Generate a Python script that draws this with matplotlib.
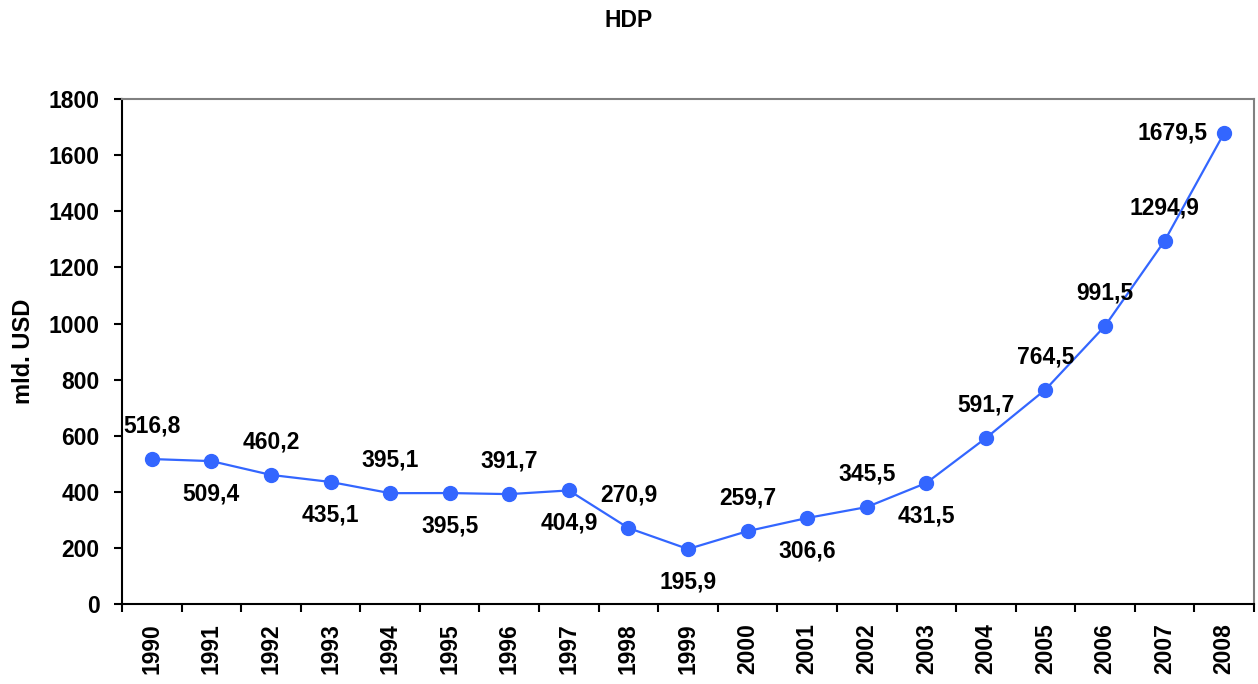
import matplotlib.pyplot as plt
import numpy as np

plt.rcParams['font.family'] = ['Liberation Sans', 'DejaVu Sans']

years = [str(y) for y in range(1990, 2009)]
gdp = [516.8, 509.4, 460.2, 435.1, 395.1, 395.5, 391.7, 404.9, 270.9, 195.9,
       259.7, 306.6, 345.5, 431.5, 591.7, 764.5, 991.5, 1294.9, 1679.5]
labels = ['516,8', '509,4', '460,2', '435,1', '395,1', '395,5', '391,7', '404,9',
          '270,9', '195,9', '259,7', '306,6', '345,5', '431,5', '591,7', '764,5',
          '991,5', '1294,9', '1679,5']
# where each value label sits relative to its point
placement = ['up', 'down', 'up', 'down', 'up', 'down', 'up', 'down', 'up', 'down',
             'up', 'down', 'up', 'down', 'up', 'up', 'up', 'up', 'left']

fig = plt.figure(figsize=(12.58, 6.84), dpi=100)
ax = fig.add_axes([0.097, 0.117, 0.8998, 0.738])

x = np.arange(len(years))
color = '#3366FF'
ax.plot(x, gdp, color=color, linewidth=1.6, marker='o', markersize=10,
        markeredgecolor=color, markerfacecolor=color)

fs = 16.5
offsets = {'up': (0, 33), 'down': (0, -33), 'left': (-52, 0)}
for xi, v, lab, p in zip(x, gdp, labels, placement):
    ax.annotate(lab, (xi, v), textcoords='offset pixels', xytext=offsets[p],
                ha='center', va='center', fontsize=fs, fontweight='bold')

ax.set_xlim(-0.5, len(years) - 0.5)
ax.set_ylim(0, 1800)
ax.set_yticks(range(0, 1801, 200))
ax.set_xticks(np.arange(-0.5, len(years), 1.0))
ax.set_xticklabels([])
ax.set_xticks(x, minor=True)
ax.set_xticklabels(years, minor=True, rotation=90, fontsize=fs,
                   fontweight='bold')
ax.tick_params(axis='x', which='minor', length=0, pad=14)
ax.tick_params(axis='x', which='major', length=6, width=1.5, direction='out')
ax.tick_params(axis='y', length=6, width=1.5, direction='out', labelsize=fs,
               pad=10)
for t in ax.get_yticklabels():
    t.set_fontweight('bold')

ax.spines['left'].set_linewidth(1.5)
ax.spines['bottom'].set_linewidth(1.5)
ax.spines['top'].set_color('#808080')
ax.spines['right'].set_color('#808080')
ax.spines['top'].set_linewidth(1.5)
ax.spines['right'].set_linewidth(1.5)

ax.set_ylabel('mld. USD', fontsize=17, fontweight='bold')
ax.yaxis.set_label_coords(-0.0765, 0.5)
fig.text(0.5, 0.97, 'HDP', ha='center', va='center', fontsize=fs,
         fontweight='bold')

fig.savefig('out.png', dpi=100)
